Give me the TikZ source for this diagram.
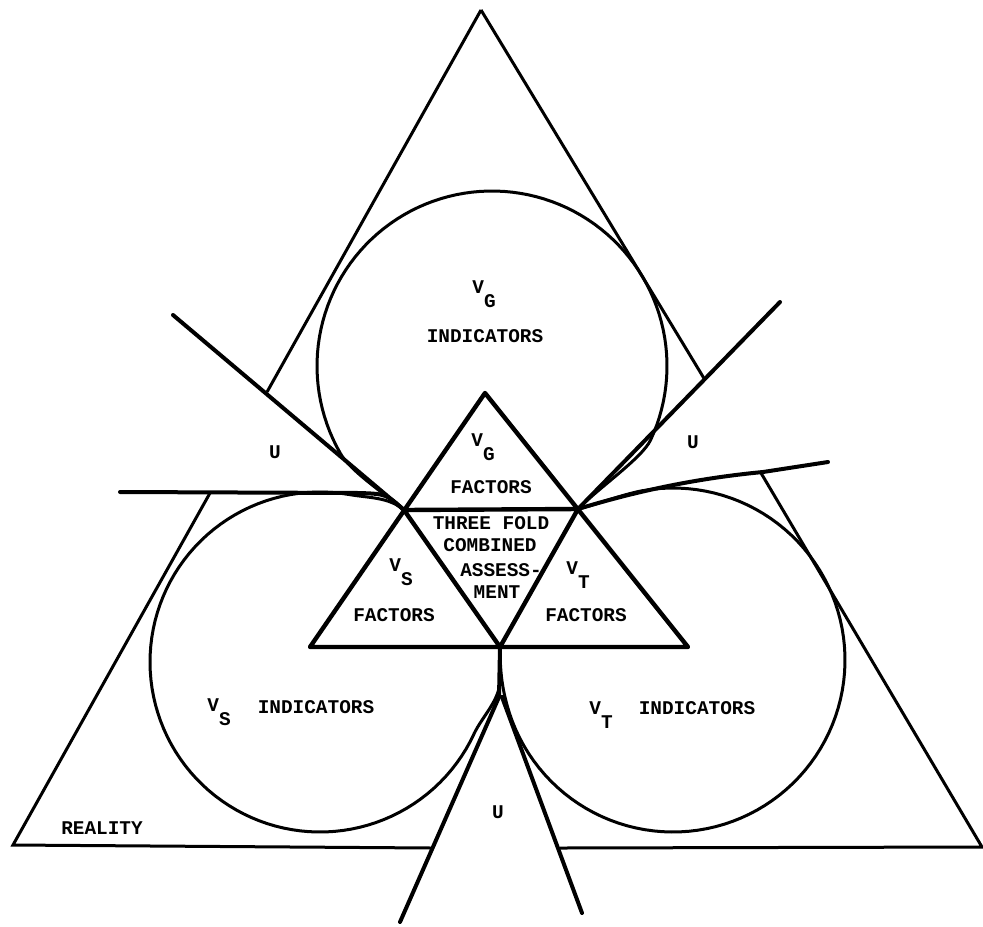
\documentclass[tikz,border=0pt]{standalone}
\usepackage{fontspec}
\setmonofont{Liberation Mono}
\newcommand{\vsubx}[1]{V\raisebox{-7pt}{#1}}
\begin{document}
\begin{tikzpicture}[x=0.5pt,y=-0.5pt,
  bigtri/.style={line width=1.5pt},
  circline/.style={line width=1.5pt,line join=round},
  uline/.style={line width=2pt,line cap=round},
  inner/.style={line width=2.2pt,line join=round},
  lbl/.style={font=\ttfamily\bfseries\fontsize{9.7}{11}\selectfont,inner sep=0pt},
  sub/.style={lbl,anchor=base west}]
\useasboundingbox (0,0) rectangle (983,926);
% big triangle
\coordinate (A) at (481,10);
\coordinate (BL) at (13,845);
\coordinate (BR) at (982,847);
\coordinate (L1) at (267,392);
\coordinate (L2) at (210,493);
\coordinate (R1) at (705,380);
\coordinate (R2) at (761,473);
\coordinate (B1) at (432,848);
\coordinate (B2) at (560,848);
\draw[bigtri] (A) -- (L1);
\draw[bigtri] (L2) -- (BL) -- (B1);
\draw[bigtri] (A) -- (R1);
\draw[bigtri] (R2) -- (BR) -- (B2);
% inner triangle
\coordinate (T) at (485,393);
\coordinate (VL) at (404,510);
\coordinate (VR) at (578,509);
\coordinate (BLi) at (310,647);
\coordinate (BM) at (500,647);
\coordinate (BRi) at (688,647);
\draw[inner] (BLi) -- (T) -- (BRi) -- cycle;
\draw[inner] (VL) -- (VR) -- (BM) -- cycle;
% U lines
\coordinate (U1a) at (173,315);
\coordinate (U2a) at (120,492);
\coordinate (U3a) at (780,302);
\coordinate (U4a) at (828,462);
\coordinate (Bs) at (499,697);
\coordinate (Bsr) at (502,697);
\coordinate (U5a) at (400,922);
\coordinate (U6a) at (582,913);
\draw[uline] (U1a) -- (VL);
\draw[uline] (U2a) -- (360,493) .. controls (386,494) .. (VL);
\draw[uline] (U3a) -- (VR);
\draw[uline] (VR) .. controls (640,490) and (700,478) .. (763,472) -- (U4a);
\draw[uline] (BM) -- (Bs) -- (U5a);
\draw[uline] (Bsr) -- (U6a);
% circles
\draw[circline] (VL) .. controls (381,491) and (350.4,470.8) .. (340.4,453.5)
  -- plot[domain=150:385,samples=90,variable=\t] ({492+175*cos(\t)},{366+175*sin(\t)})
  .. controls (642.1,458.1) and (599,487.5) .. (VR);
\draw[circline] (BM) -- (500,680) .. controls (500,700) and (482.5,716) .. (474,733.8)
  -- plot[domain=25:280,samples=90,variable=\t] ({320+170*cos(\t)},{662+170*sin(\t)})
  .. controls (369,498) and (389,497) .. (VL);
\draw[circline] (VR) .. controls (597.4,504.2) and (623.3,494.1) .. (643.1,490.6)
  -- plot[domain=260:525,samples=90,variable=\t] ({673+172*cos(\t)},{660+172*sin(\t)})
  .. controls (503,690) and (500,675) .. (BM);
% labels
\node[sub] (vgi) at (472,293) {\vsubx{G}};
\node[lbl] (indg) at (485,336) {INDICATORS};
\node[sub] (vgf) at (471,446) {\vsubx{G}};
\node[lbl] (facg) at (491,487) {FACTORS};
\node[lbl] (three) at (491,523) {THREE FOLD};
\node[lbl] (comb) at (490,545) {COMBINED};
\node[lbl] (asse) at (501,570) {ASSESS-};
\node[lbl] (ment) at (497,592) {MENT};
\node[sub] (vsf) at (389,571) {\vsubx{S}};
\node[lbl] (facs) at (394,615) {FACTORS};
\node[sub] (vtf) at (566,574) {\vsubx{T}};
\node[lbl] (fact) at (586,615) {FACTORS};
\node[sub] (vsi) at (207,711) {\vsubx{S}};
\node[lbl] (inds) at (316,707) {INDICATORS};
\node[sub] (vti) at (589,714) {\vsubx{T}};
\node[lbl] (indt) at (697,708) {INDICATORS};
\node[lbl] (u1) at (275,452) {U};
\node[lbl] (u2) at (693,442) {U};
\node[lbl] (u3) at (498,812) {U};
\node[lbl] (real) at (102,828) {REALITY};
\end{tikzpicture}
\end{document}
